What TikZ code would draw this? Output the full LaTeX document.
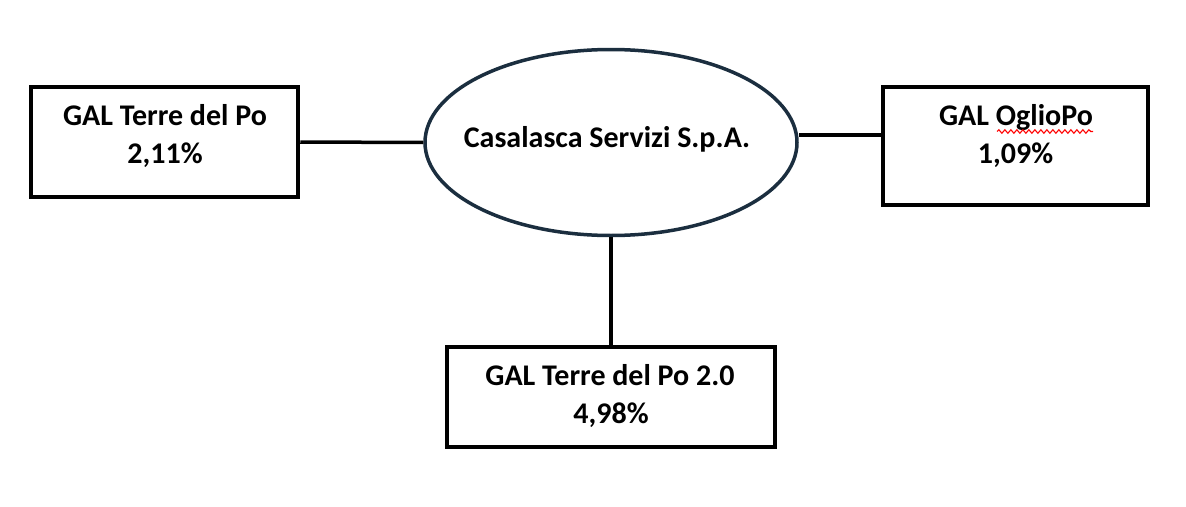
\documentclass[tikz,border=0pt]{standalone}
\usepackage{fontspec}
\setmainfont{Carlito}
\usetikzlibrary{shapes.geometric,decorations.pathmorphing}
\definecolor{navy}{HTML}{1B2E3F}
\begin{document}
\begin{tikzpicture}[x=1pt,y=-1pt,
  box/.style={draw=black,line width=4.5pt,rectangle,inner sep=0pt,minimum width=#1},
  txt/.style={anchor=base,inner sep=0pt,font=\fontsize{30}{36}\selectfont\bfseries},
  conn/.style={draw=black,line width=3.5pt}]
\useasboundingbox (0,0) rectangle (1186,506);
% boxes
\node[box=267pt,minimum height=110pt] (lbox) at (164.5,142) {};
\node[box=265pt,minimum height=118pt] (rbox) at (1015.5,146) {};
\node[box=328pt,minimum height=100pt] (bbox) at (611,397) {};
\node[ellipse,draw=navy,line width=3.5pt,minimum width=372pt,minimum height=186pt,inner sep=0pt] (ell) at (611,142.5) {};
% texts
\node[txt] (lt1) at (165,125) {GAL Terre del Po};
\node[txt] (lt2) at (165,163) {2,11\%};
\node[txt] (rt1) at (1016,125) {GAL OglioPo};
\node[txt] (rt2) at (1015.5,163) {1,09\%};
\node[txt] (bt1) at (610,385) {GAL Terre del Po 2.0};
\node[txt] (bt2) at (611,423) {4,98\%};
\node[txt] (et) at (607,147) {Casalasca Servizi S.p.A.};
% spell-check underline
\draw[red,line width=1.1pt,decorate,decoration={snake,amplitude=1.8pt,segment length=6pt}] (997,131.5) -- (1093,131.5);
% connectors
\coordinate (ry) at (0,135);
\draw[conn] (lbox.east) -- (ell.west);
\draw[conn] (ell.east |- ry) -- (rbox.west |- ry);
\draw[conn] (ell.south) -- (bbox.north);
\end{tikzpicture}
\end{document}
